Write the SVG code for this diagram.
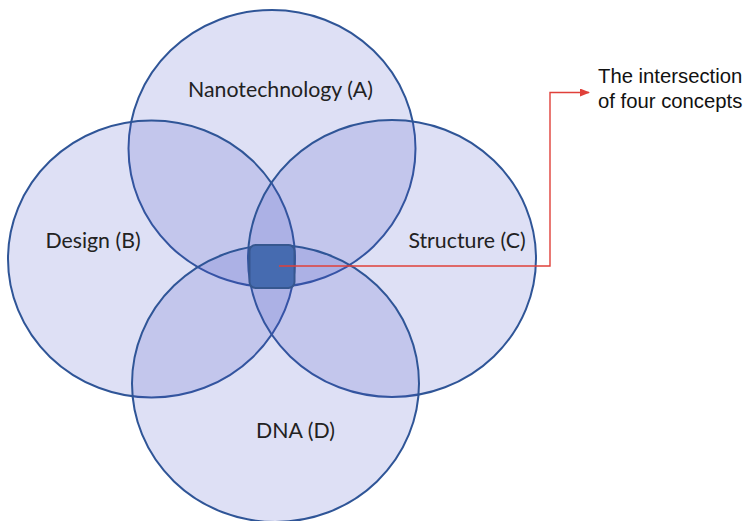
<svg xmlns="http://www.w3.org/2000/svg" width="746" height="521" viewBox="0 0 746 521">
<style>
.set{fill:#4653C8;fill-opacity:0.18;stroke:#2F5597;stroke-width:2}
.lbl{font-family:Lato,"Open Sans","Liberation Sans",sans-serif;font-size:21.3px;fill:#222;text-anchor:middle}
.note{font-family:"Liberation Sans",Arial,sans-serif;font-size:20.3px;fill:#111}
.red{fill:none;stroke:#E0403A;stroke-width:1.4}
</style>
<defs>
<marker id="ah" markerWidth="10" markerHeight="8" refX="9" refY="4" orient="auto" markerUnits="userSpaceOnUse">
<path d="M0,0 L10,4 L0,8 Z" fill="#E0403A"/>
</marker>
</defs>
<rect width="746" height="521" fill="#fff"/>
<g id="nodeA"><ellipse class="set" cx="272" cy="148.5" rx="143.5" ry="138.5"/></g>
<g id="nodeB"><ellipse class="set" cx="151.5" cy="259" rx="143.5" ry="138.5"/></g>
<g id="nodeC"><ellipse class="set" cx="392" cy="258.5" rx="144" ry="138.5"/></g>
<g id="nodeD"><ellipse class="set" cx="275.5" cy="383.5" rx="143.5" ry="138.5"/></g>
<g id="center"><rect x="249.5" y="245" width="45" height="43" rx="6" fill="#466BB0" stroke="#36578F" stroke-width="2"/></g>
<g id="labels">
<text class="lbl" x="280.5" y="97">Nanotechnology (A)</text>
<text class="lbl" x="93" y="248">Design (B)</text>
<text class="lbl" x="467" y="248">Structure (C)</text>
<text class="lbl" x="295.5" y="438">DNA (D)</text>
</g>
<g id="connectors">
<path class="red" d="M279,266 H550 V92.5 H589" marker-end="url(#ah)"/>
</g>
<g id="note">
<text class="note" x="598" y="83">The intersection</text>
<text class="note" x="598" y="108">of four concepts</text>
</g>
</svg>
